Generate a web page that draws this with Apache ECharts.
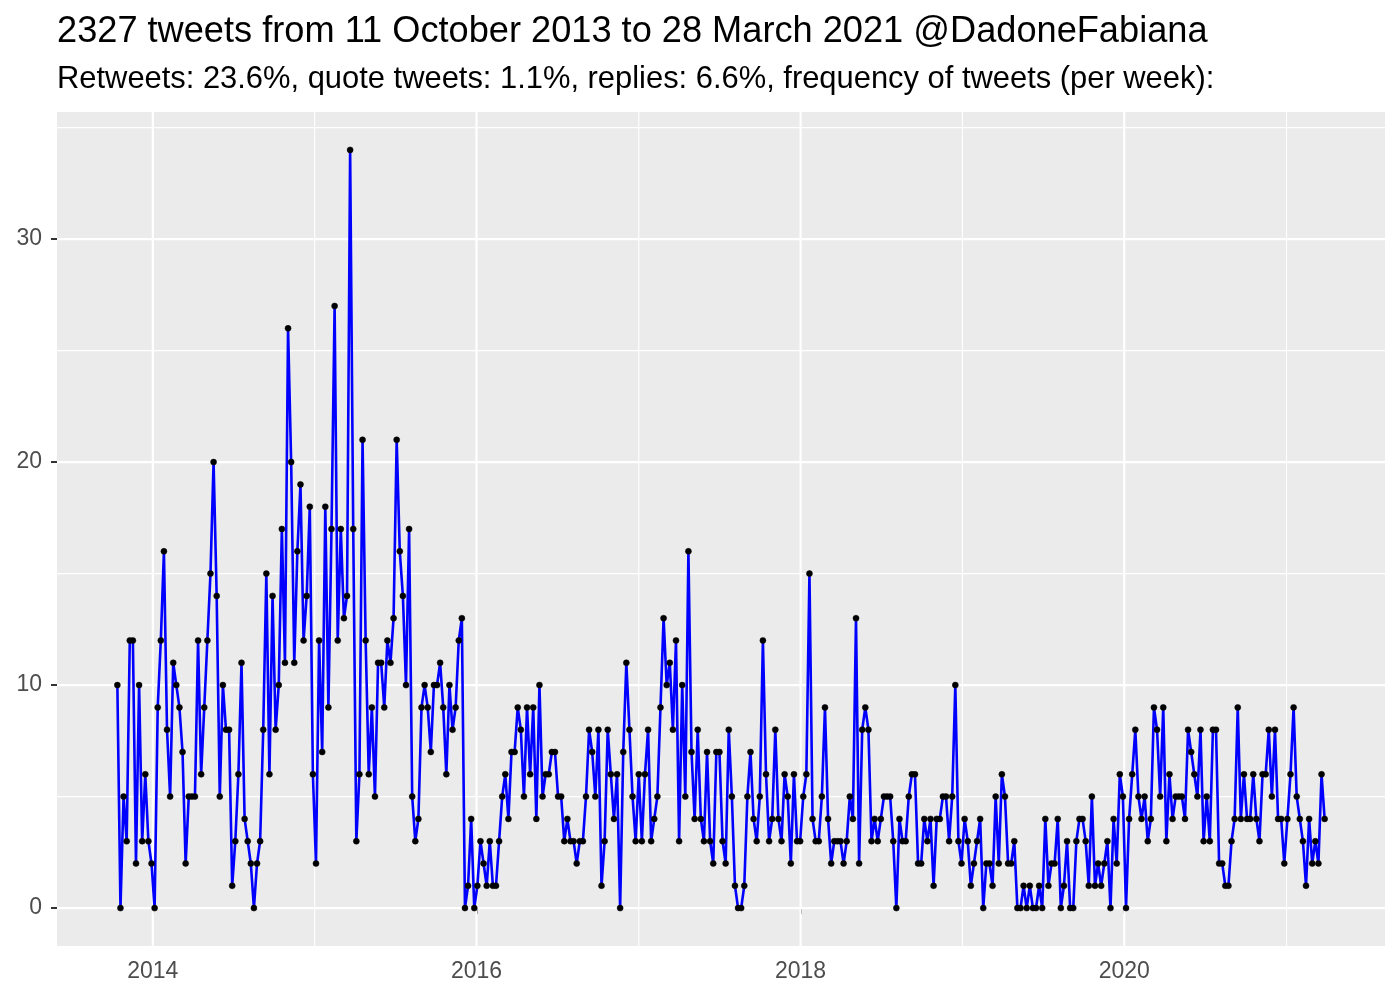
<!DOCTYPE html>
<html><head><meta charset="utf-8">
<script src="https://cdn.jsdelivr.net/npm/echarts@6/dist/echarts.min.js"></script>
<style>html,body{margin:0;padding:0;background:#fff}#c{width:1400px;height:1000px}</style>
</head><body><div id="c"></div>
<script>
const titleText = '2327 tweets from 11 October 2013 to 28 March 2021 @DadoneFabiana';
const subtitleText = 'Retweets: 23.6%, quote tweets: 1.1%, replies: 6.6%, frequency of tweets (per week):';
const firstWeek = '2013-10-13';
const tweetsPerWeek = [
  10,0,5,3,12,12,2,10,3,6,3,2,0,9,12,16,8,5,11,10,9,7,2,5,5,5,12,6,9,12,15,20,14,
  5,10,8,8,1,3,6,11,4,3,2,0,2,3,8,15,6,14,8,10,17,11,26,20,11,16,19,12,14,18,6,2,12,7,
  18,9,17,27,12,17,13,14,34,17,3,6,21,12,6,9,5,11,11,9,12,11,13,21,16,14,10,17,5,3,4,9,
  10,9,7,10,10,11,9,6,10,8,9,12,13,0,1,4,0,1,3,2,1,3,1,1,3,5,6,4,7,7,9,8,5,9,
  6,9,4,10,5,6,6,7,7,5,5,3,4,3,3,2,3,3,5,8,7,5,8,1,3,8,6,4,6,0,7,11,8,
  5,3,6,3,6,8,3,4,5,9,13,10,11,8,12,3,10,5,16,7,4,8,4,3,7,3,2,7,7,3,2,8,5,1,
  0,0,1,5,7,4,3,5,12,6,3,4,8,4,3,6,5,2,6,3,3,5,6,15,4,3,3,5,9,4,2,3,3,3,
  2,3,5,4,13,2,8,9,8,3,4,3,4,5,5,5,3,0,4,3,3,5,6,6,2,2,4,3,4,1,4,4,5,
  5,3,5,10,3,2,4,3,1,2,3,4,0,2,2,1,5,2,6,5,2,2,3,0,0,1,0,1,0,0,1,0,4,1,
  2,2,4,0,1,3,0,0,3,4,4,3,1,5,1,2,1,2,3,0,4,2,6,5,0,4,6,8,5,4,5,3,4,9,
  8,5,9,3,6,4,5,5,5,4,8,7,6,5,8,3,5,3,8,8,2,2,1,1,3,4,9,4,6,4,4,6,4,3,
  6,6,8,5,8,4,4,2,4,6,9,5,4,3,1,4,2,3,2,6,4
];
const yMajorBreaks = [0, 10, 20, 30];
const yMinorBreaks = [5, 15, 25, 35];
const xMajorYears = [2014, 2016, 2018, 2020];
const xMinorYears = [2015, 2017, 2019, 2021];

const DAY = 86400000;
const t0 = Date.parse(firstWeek + 'T00:00:00Z');
const points = tweetsPerWeek.map((v, i) => [t0 + i * 7 * DAY, v]);
const tEnd = points[points.length - 1][0];
const xPad = (tEnd - t0) * 0.05;
const xMin = t0 - xPad, xMax = tEnd + xPad;
const yTop = Math.max(...tweetsPerWeek);
const yMin = -yTop * 0.05, yMax = yTop * 1.05;
const yearTs = y => Date.UTC(y, 0, 1);

const hGrid = yMajorBreaks.map(v => [xMin, v, 1]).concat(yMinorBreaks.map(v => [xMin, v, 0]));
const vGrid = xMajorYears.map(y => [yearTs(y), yMin, 1]).concat(xMinorYears.map(y => [yearTs(y), yMin, 0]));

function gridRender(horizontal) {
  return function (params, api) {
    const cs = params.coordSys;
    const p = api.coord([api.value(0), api.value(1)]);
    const w = api.value(2) ? 2.2 : 1.1;
    const shape = horizontal
      ? { x1: cs.x, y1: p[1], x2: cs.x + cs.width, y2: p[1] }
      : { x1: p[0], y1: cs.y, x2: p[0], y2: cs.y + cs.height };
    return { type: 'line', shape: shape, style: { stroke: '#FFFFFF', lineWidth: w }, silent: true };
  };
}

const FONT = 'Liberation Sans, Arial, Helvetica, sans-serif';
const chart = echarts.init(document.getElementById('c'), null, { renderer: 'canvas' });
chart.setOption({
  animation: false,
  backgroundColor: '#FFFFFF',
  title: [
    { text: titleText, left: 57, top: 14, padding: 0,
      textStyle: { fontFamily: FONT, fontSize: 36.2, fontWeight: 'normal', color: '#000000' } },
    { text: subtitleText, left: 57, top: 64, padding: 0,
      textStyle: { fontFamily: FONT, fontSize: 30.9, fontWeight: 'normal', color: '#000000' } }
  ],
  grid: { left: 57, right: 15, top: 112, bottom: 54, show: true, backgroundColor: '#EBEBEB', borderWidth: 0, containLabel: false },
  xAxis: {
    type: 'value', min: xMin, max: xMax,
    axisLine: { show: false },
    splitLine: { show: false },
    axisTick: { show: true, length: 6, lineStyle: { color: '#333333', width: 2 },
      customValues: xMajorYears.map(yearTs) },
    axisLabel: { customValues: xMajorYears.map(yearTs), margin: 14,
      formatter: v => String(new Date(v).getUTCFullYear()),
      fontFamily: FONT, fontSize: 23, color: '#4D4D4D' }
  },
  yAxis: {
    type: 'value', min: yMin, max: yMax,
    axisLine: { show: false },
    splitLine: { show: false },
    axisTick: { show: true, length: 6, lineStyle: { color: '#333333', width: 2 }, customValues: yMajorBreaks },
    axisLabel: { customValues: yMajorBreaks, margin: 15, fontFamily: FONT, fontSize: 23, color: '#4D4D4D' }
  },
  series: [
    { type: 'custom', name: 'hgrid', data: hGrid, renderItem: gridRender(true), z: 1, silent: true },
    { type: 'custom', name: 'vgrid', data: vGrid, renderItem: gridRender(false), z: 1, silent: true },
    { type: 'line', name: 'tweets', data: points, z: 3,
      lineStyle: { color: '#0000FF', width: 2.6 },
      symbol: 'circle', symbolSize: 6, showAllSymbol: true,
      itemStyle: { color: '#000000', borderColor: '#000000', borderWidth: 0.5 },
      clip: false }
  ]
});
</script></body></html>
